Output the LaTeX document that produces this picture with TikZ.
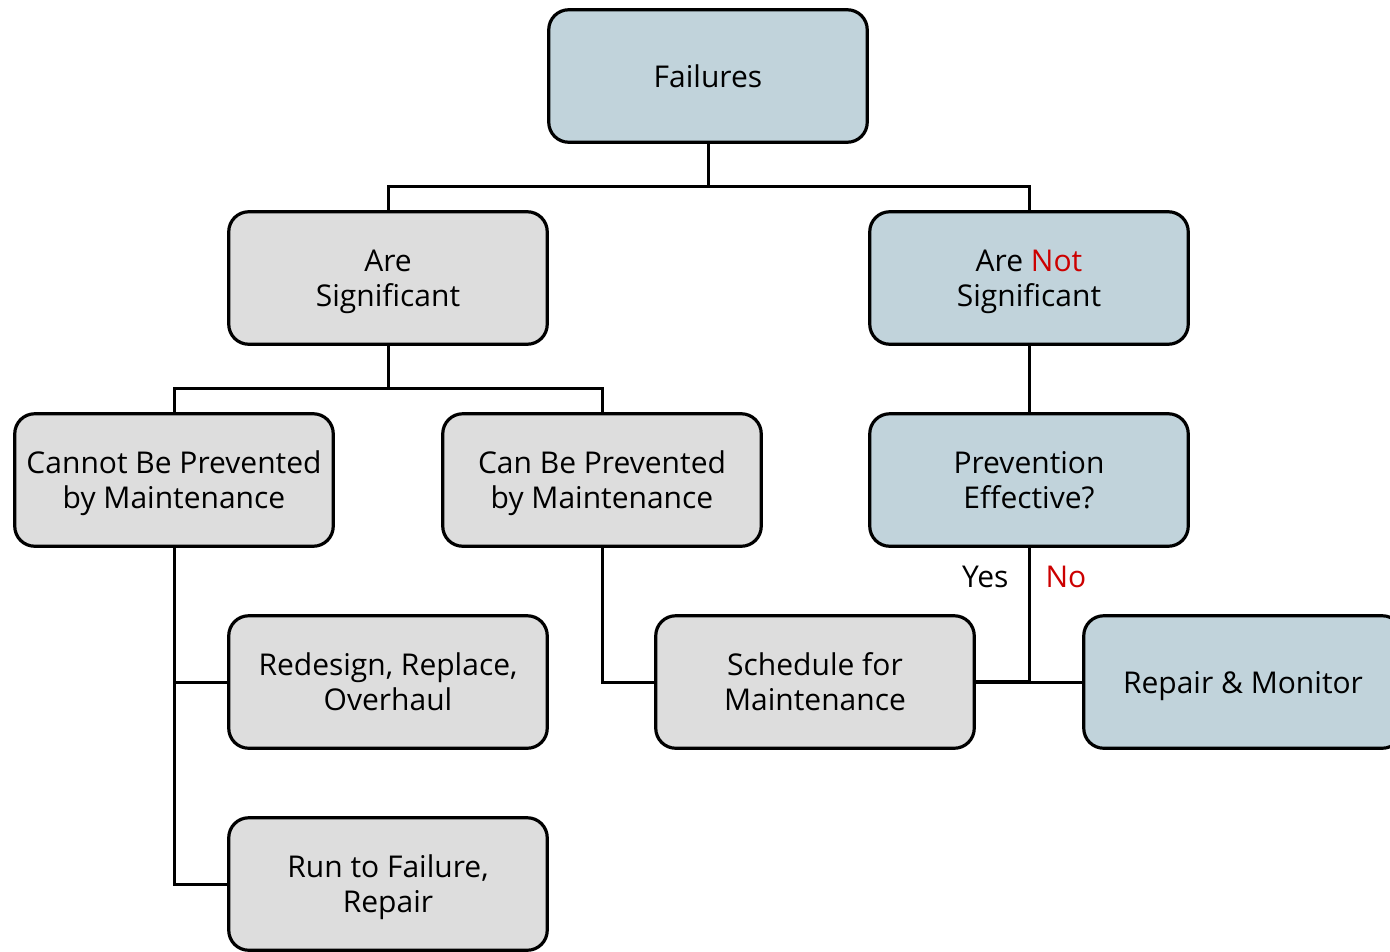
\documentclass[tikz,border=0pt]{standalone}
\usepackage{fontspec}
\setmainfont{Open Sans}
\definecolor{bluegray}{RGB}{193,211,219}
\definecolor{lightgray}{RGB}{221,221,221}
\definecolor{nored}{RGB}{204,0,0}
\begin{document}
\begin{tikzpicture}[x=1pt,y=-1pt,
  box/.style={draw=black,line width=3.2pt,rounded corners=20pt,minimum width=318.5pt,minimum height=132.5pt,
    align=center,font=\fontsize{30}{35}\selectfont,inner sep=0pt,text depth=0pt},
  bbox/.style={box,fill=bluegray},
  gbox/.style={box,fill=lightgray},
  conn/.style={line width=3pt}]
\useasboundingbox (0,0) rectangle (1390,951);
\node[bbox] (fail) at (708,76) {Failures};
\node[gbox] (sig) at (388,278) {Are\\Significant};
\node[bbox] (nsig) at (1029,278) {Are \textcolor{nored}{Not}\\Significant};
\node[gbox] (cannot) at (174,480) {Cannot Be Prevented\\by Maintenance};
\node[gbox] (can) at (602,480) {Can Be Prevented\\by Maintenance};
\node[bbox] (prev) at (1029,480) {Prevention\\Effective?};
\node[gbox] (redesign) at (388,682) {Redesign, Replace,\\Overhaul};
\node[gbox] (sched) at (815,682) {Schedule for\\Maintenance};
\node[bbox] (repair) at (1243,682) {Repair \& Monitor};
\node[gbox] (run) at (388,884) {Run to Failure,\\Repair};
\coordinate (j1) at (708,186);
\coordinate (j2) at (388,388);
\coordinate (j3) at (1029,682);
\draw[conn] (fail.south) -- (j1) -| (sig.north);
\draw[conn] (j1) -| (nsig.north);
\draw[conn] (sig.south) -- (j2) -| (cannot.north);
\draw[conn] (j2) -| (can.north);
\draw[conn] (nsig.south) -- (prev.north);
\draw[conn] (cannot.south) |- (redesign.west);
\draw[conn] (cannot.south) |- (run.west);
\draw[conn] (can.south) |- (sched.west);
\draw[conn] (prev.south) -- (j3) -- (sched.east);
\draw[line width=4.5pt] (j3) -- (sched.east);
\draw[conn] (j3) -- (repair.west);
\node[font=\fontsize{30}{35}\selectfont,anchor=east] (yes) at (1012,577) {Yes};
\node[font=\fontsize{30}{35}\selectfont,anchor=west,text=nored] (no) at (1042,577) {No};
\end{tikzpicture}
\end{document}
